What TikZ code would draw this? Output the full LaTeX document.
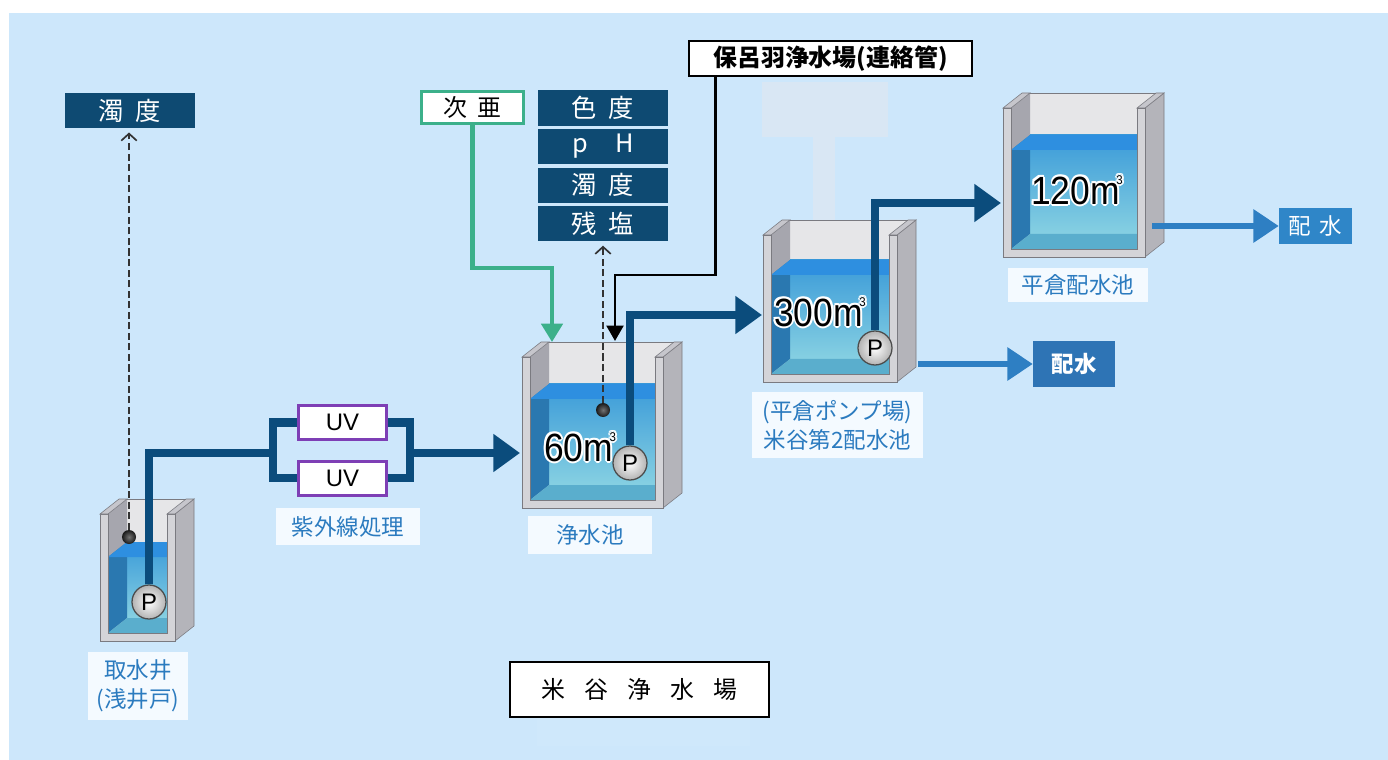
\documentclass[tikz,border=0pt]{standalone}
\usepackage{fontspec}
\setmainfont{Noto Sans CJK JP}
\newfontfamily\latinfont{Liberation Sans}
\usetikzlibrary{positioning, arrows.meta}

\definecolor{backblue}{HTML}{CDE7FB}
\definecolor{ghost}{HTML}{D9E7F4}
\definecolor{navy}{HTML}{0E4A72}
\definecolor{pipenavy}{HTML}{0B4C7C}
\definecolor{pipelight}{HTML}{2E7FC3}
\definecolor{outblue}{HTML}{2E74B5}
\definecolor{outbluetwo}{HTML}{2F86C8}
\definecolor{labelblue}{HTML}{2B7BBF}
\definecolor{labelfill}{HTML}{F4FAFF}
\definecolor{chlorine}{HTML}{3CB08A}
\definecolor{uvpurple}{HTML}{7E3FB5}
% tank colours
\definecolor{wallfront}{HTML}{D4D4D8}
\definecolor{wallside}{HTML}{B4B4BA}
\definecolor{wallback}{HTML}{E6E6E8}
\definecolor{wallinner}{HTML}{A6A6AE}
\definecolor{wallfloor}{HTML}{CFCFD4}
\definecolor{wallcap}{HTML}{C6C6CC}
\definecolor{tankedge}{HTML}{7A7A80}
\definecolor{waterhi}{HTML}{3A9AD8}
\definecolor{waterlo}{HTML}{86D0E2}
\definecolor{waterside}{HTML}{2A78B0}
\definecolor{waterfloor}{HTML}{5AAECD}
\definecolor{watertop}{HTML}{2E8FE0}

% open tank: #1 left, #2 right, #3 top, #4 bottom (front face), #5 water level
\newcommand\tank[5]{%
  \filldraw[draw=tankedge, fill=wallside] (#2,#3) -- ++(19,-15) -- (#2+19,#4-15) -- (#2,#4) -- cycle;
  \filldraw[draw=tankedge, fill=wallfront] (#1,#3) rectangle (#2,#4);
  % back wall and floor
  \fill[wallback] (#1+27,#3-15) rectangle (#2-8,#4-23);
  \fill[wallback] (#2-8,#3) -- (#2-8,#3-15) -- (#2+11,#3-15) -- cycle;
  \fill[wallfloor] (#1+8,#4-8) -- ++(19,-15) -- (#2-8,#4-23) -- (#2-8,#4-8) -- cycle;
  \fill[wallinner] (#1+8,#3) -- ++(19,-15) -- (#1+27,#4-23) -- (#1+8,#4-8) -- cycle;
  % water
  \shade[top color=waterhi, bottom color=waterlo] (#1+27,#5-15) rectangle (#2-8,#4-23);
  \fill[waterside] (#1+8,#5) -- ++(19,-15) -- (#1+27,#4-23) -- (#1+8,#4-8) -- cycle;
  \fill[waterfloor] (#1+8,#4-8) -- ++(19,-15) -- (#2-8,#4-23) -- (#2-8,#4-8) -- cycle;
  \fill[watertop] (#1+8,#5) -- ++(19,-15) -- (#2-8,#5-15) -- (#2-8,#5) -- cycle;
  % wall caps and edges
  \filldraw[draw=tankedge, fill=wallcap] (#1,#3) -- ++(19,-15) -- ++(8,0) -- (#1+8,#3) -- cycle;
  \filldraw[draw=tankedge, fill=wallcap] (#2-8,#3) -- ++(19,-15) -- ++(8,0) -- (#2,#3) -- cycle;
  \draw[tankedge] (#1+8,#3) -- (#1+8,#4-8) -- (#2-8,#4-8) -- (#2-8,#3);
  \draw[tankedge] (#1+27,#3-15) -- (#2+11,#3-15);
}

\newcommand\cubic{\hspace{-0.1em}\raisebox{0.5em}{\fontsize{9}{9}\selectfont 3}}

% volume figure with a white halo
\newcommand\volume[2]{%
  \foreach \a in {0,45,...,315}
    \node[voltext, text=white, shift={(\a:1.4pt)}] at (#1) {\scalebox{0.9}[1]{#2m\cubic}};
  \node[voltext] at (#1) {\scalebox{0.9}[1]{#2m\cubic}};
}

\begin{document}
\begin{tikzpicture}[x=0.025cm, y=-0.025cm,
    pipe/.style={draw=pipenavy, line width=5.7pt},
    navyflow/.style={pipe, -{Triangle[length=19pt, width=26pt]}},
    lightflow/.style={draw=pipelight, line width=3.6pt, -{Triangle[length=18pt, width=23pt]}},
    dose/.style={draw=chlorine, line width=3pt, -{Triangle[length=13pt, width=15pt]}},
    link/.style={draw=black, line width=2pt, -{Triangle[length=11pt, width=12pt]}},
    sensor/.style={draw=black!80, line width=1.2pt, dash pattern=on 5pt off 2.5pt, shorten >=3pt,
      -{Straight Barb[length=5pt, width=11pt]}},
    navybox/.style={fill=navy, text=white, minimum width=3.25cm, minimum height=0.875cm,
      inner sep=0pt, font=\fontsize{18}{18}\selectfont},
    dosebox/.style={draw=chlorine, line width=2pt, fill=white, minimum width=2.55cm,
      minimum height=0.8cm, inner sep=0pt, font=\fontsize{17}{17}\selectfont},
    linkbox/.style={draw=black, line width=1.4pt, fill=white, minimum width=7.07cm,
      minimum height=0.88cm, inner sep=0pt, font=\fontsize{17}{17}\selectfont\bfseries},
    titlebox/.style={draw=black, line width=1.4pt, fill=white, minimum width=6.48cm,
      minimum height=1.38cm, inner sep=0pt, font=\fontsize{17}{17}\selectfont},
    uvbox/.style={draw=uvpurple, line width=2pt, fill=white, minimum width=2.2cm,
      minimum height=0.85cm, inner sep=0pt, font=\latinfont\fontsize{17}{17}\selectfont},
    outbox/.style={text=white, inner sep=0pt, font=\fontsize{16}{16}\selectfont},
    label/.style={fill=labelfill, text=labelblue, inner sep=0pt, align=center,
      font=\fontsize{16}{20.5}\selectfont},
    pump/.style={circle, draw=black!70, line width=0.9pt, minimum size=0.85cm, inner sep=0pt,
      inner color=white, outer color=black!30, font=\latinfont\fontsize{17}{17}\selectfont},
    probe/.style={circle, minimum size=0.35cm, inner sep=0pt, inner color=black!55, outer color=black!90},
    voltext/.style={inner sep=0pt, font=\latinfont\fontsize{28}{28}\selectfont}
  ]
  \fill[white] (0,0) rectangle (1388,760);
  \useasboundingbox (0,0) rectangle (1388,760);
  \fill[backblue] (9,13) rectangle (1388,760);
  \fill[ghost] (762,82) rectangle (888,137);
  \fill[ghost] (813,137) rectangle (835,222);
  \fill[white, opacity=0.06] (537,718) rectangle (750,746);

  % tanks
  \tank{100}{175}{514}{641}{557}
  \tank{522}{663}{357}{508}{399}
  \tank{763}{897}{235}{382}{275}
  \tank{1003}{1145}{108}{257}{150}

  \volume{580,447}{60}
  \volume{820,312}{300}
  \volume{1077,190}{120}

  % measurement and dosing boxes
  \node[navybox] (turbA) at (130,110.5) {濁\hspace{.45em}度};
  \node[navybox] (colour) at (603,108) {色\hspace{.45em}度};
  \node[navybox, below=0.075cm of colour] (ph) {p\hspace{1.1em}H};
  \node[navybox, below=0.075cm of ph] (turbB) {濁\hspace{.45em}度};
  \node[navybox, below=0.075cm of turbB] (chlor) {残\hspace{.45em}塩};
  \node[dosebox] (jia) at (472.5,107.5) {次\hspace{.45em}亜};
  \node[linkbox] (horoha) at (830.5,58.5) {保呂羽浄水場(連絡管)};
  \node[titlebox] (plant) at (639.5,689.5) {米\hspace{.8em}谷\hspace{.8em}浄\hspace{.8em}水\hspace{.8em}場};

  % UV units
  \node[uvbox] (uv1) at (342.5,422.5) {UV};
  \node[uvbox, below=0.475cm of uv1] (uv2) {UV};

  % outlets
  \node[outbox, fill=outblue, minimum width=2.05cm, minimum height=1.15cm] (outC) at (1074,364) {\bfseries 配水};
  \node[outbox, fill=outbluetwo, minimum width=1.825cm, minimum height=0.875cm] (outD) at (1315.5,226) {配\hspace{.4em}水};

  % captions
  \node[label, minimum width=2.5cm, minimum height=1.7cm] (lblA) at (138,686) {取水井\\(浅井戸)};
  \node[label, minimum width=3.6cm, minimum height=0.925cm] (lblUV) at (348,526.5) {紫外線処理};
  \node[label, minimum width=3.1cm, minimum height=0.95cm] (lblB) at (590,535) {浄水池};
  \node[label, minimum width=4.275cm, minimum height=1.65cm] (lblC) at (837.5,425) {(平倉ポンプ場)\\米谷第2配水池};
  \node[label, minimum width=3.5cm, minimum height=0.85cm] (lblD) at (1078,285) {平倉配水池};

  % pumps and probes
  \node[pump] (pumpA) at (149,602) {P};
  \node[pump] (pumpB) at (630,463) {P};
  \node[pump] (pumpC) at (875,348) {P};
  \node[probe] (dotA) at (129,537) {};
  \node[probe] (dotB) at (603,410) {};

  \coordinate (jL) at (273,453);
  \coordinate (jR) at (410,453);
  \coordinate (inB) at (520,453);
  \coordinate (inC) at (762,315);
  \coordinate (inD) at (1001,203);
  \coordinate (drainC) at (918,364);
  \coordinate (drainD) at (1152,226);
  \coordinate (doseB) at (552,342);
  \coordinate (feedB) at (615,341);

  % main line
  \draw[pipe] (pumpA.north) |- (jL);
  \draw[pipe] (uv1.west) -| (jL) |- (uv2.west);
  \draw[pipe] (uv1.east) -| (jR) |- (uv2.east);
  \draw[navyflow] (jR) -- (inB);
  \draw[navyflow] (pumpB.north) |- (inC);
  \draw[navyflow] (pumpC.north) |- (inD);
  \draw[lightflow] (drainC) -- (drainC -| outC.west);
  \draw[lightflow] (drainD) -- (drainD -| outD.west);

  % dosing, connection pipe and sampling
  \draw[dose] (jia.south) -- ++(0,143) -| (doseB);
  \draw[link] ([xshift=0.675cm]horoha.south west) -- ++(0,198) -| (feedB);
  \draw[sensor] (dotA.north) -- (dotA |- turbA.south);
  \draw[sensor] (dotB.north) -- (dotB |- chlor.south);
\end{tikzpicture}
\end{document}
